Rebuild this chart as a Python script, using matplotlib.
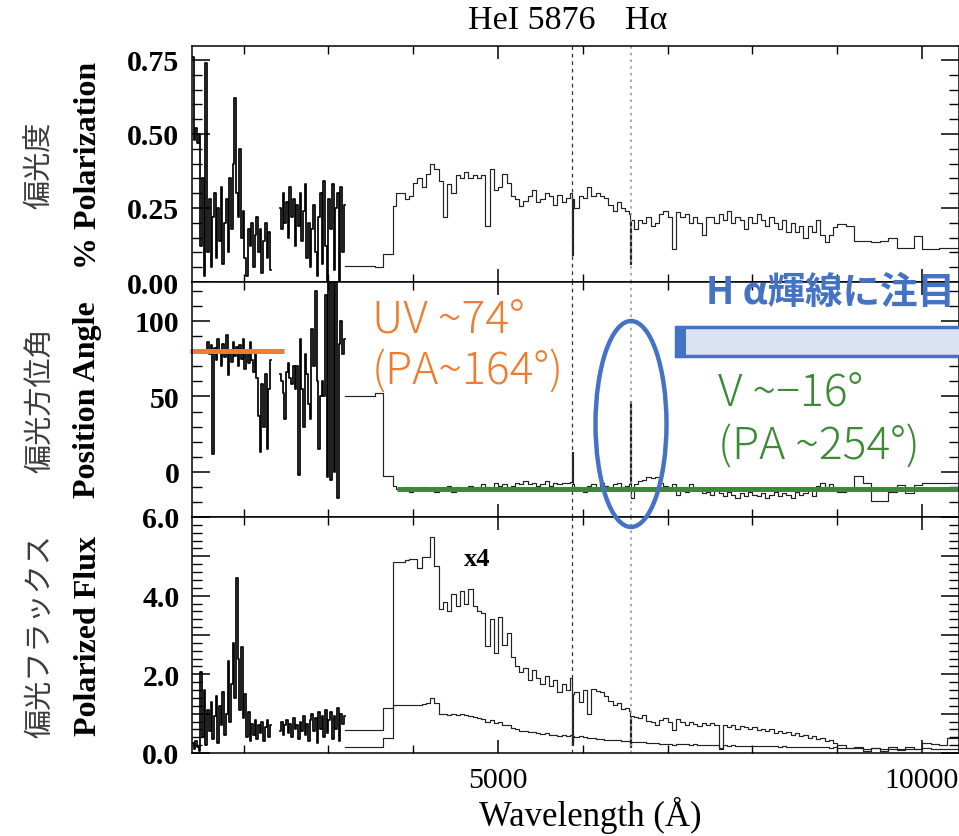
import numpy as np
import matplotlib.pyplot as plt
from matplotlib.ticker import MultipleLocator, FormatStrFormatter, FuncFormatter
from matplotlib.patches import Ellipse, Rectangle

plt.rcParams['font.family'] = 'Liberation Serif'
jp = ['Noto Sans CJK JP', 'DejaVu Sans']

# ---------------- data ----------------
# UV spectrum, two grating segments (Angstrom)
wl_uv1 = [1400, 1420, 1440, 1460, 1480, 1500, 1520, 1540, 1560, 1580,
          1600, 1620, 1640, 1660, 1680, 1700, 1720, 1740, 1760, 1780,
          1800, 1820, 1840, 1860, 1880, 1900, 1920, 1940, 1960, 1980,
          2000, 2020, 2040, 2060, 2080, 2100, 2120, 2140, 2160, 2180,
          2200, 2220, 2240, 2260, 2280, 2300, 2320]
wl_uv2 = [2430, 2450, 2470, 2490, 2510, 2530, 2550, 2570, 2590, 2610,
          2630, 2650, 2670, 2690, 2710, 2730, 2750, 2770, 2790, 2810,
          2830, 2850, 2870, 2890, 2910, 2930, 2950, 2970, 2990, 3010,
          3030, 3050, 3070, 3090, 3110, 3130, 3150, 3170, 3190]

pol_uv1 = [0.76, 0.48, 0.52, 0.47, 0.50, 0.12, 0.35, 0.02, 0.74, 0.10,
           0.28, 0.05, 0.22, 0.30, 0.08, 0.25, 0.14, 0.32, 0.06, 0.20,
           0.28, 0.10, 0.35, 0.18, 0.40, 0.62, 0.30, 0.22, 0.45, 0.15,
           0.24, 0.08, 0.02, 0.18, 0.12, 0.20, 0.05, 0.16, 0.22, 0.10,
           0.18, 0.03, 0.14, 0.20, 0.08, 0.17, 0.04]
pol_uv2 = [0.25, 0.18, 0.30, 0.20, 0.27, 0.15, 0.32, 0.22, 0.28, 0.12,
           0.26, 0.19, 0.30, 0.14, 0.24, 0.33, 0.08, 0.20, 0.05, 0.18,
           0.26, 0.10, 0.02, 0.22, 0.30, 0.06, 0.34, 0.12, 0.00, 0.28,
           0.18, 0.33, 0.04, 0.25, 0.30, 0.00, 0.32, 0.10, 0.26]

nan = np.nan
pa_uv1 = [nan, nan, nan, nan, nan, nan, nan, nan, 80, 86,
          78, 84, 12, 82, 74, 88, 79, 70, 85, 76,
          91, 64, 80, 73, 86, 77, 83, 70, 84, 75,
          88, 68, 80, 72, 86, 74, 66, 79, 62, 37,
          13, 58, 30, 65, 15, 55, 74]
pa_uv2 = [65, 60, 52, 35, 66, 72, 62, 58, 70, 55,
          70, -2, 88, 55, 30, 78, 65, 45, 35, 95,
          70, 120, 60, 15, 50, 60, 50, 117, -3, 140,
          -5, 140, 0, 135, -17, 85, 100, 78, 88]

pflux_uv1 = [0.25, 0.10, 0.30, 0.15, 0.05, 2.05, 0.40, 1.60, 0.20, 1.10,
             0.55, 1.30, 0.35, 0.95, 1.45, 0.25, 1.20, 0.70, 1.55, 0.45,
             1.00, 2.35, 0.80, 1.75, 2.80, 1.40, 4.45, 2.40, 1.10, 2.70,
             0.90, 1.50, 0.40, 1.05, 0.30, 0.75, 0.45, 0.85, 0.35, 0.70,
             0.50, 0.80, 0.30, 0.65, 0.85, 0.40, 0.70]
pflux_uv2 = [0.55, 0.80, 0.45, 0.70, 0.85, 0.50, 0.75, 0.40, 0.90, 0.60,
             0.70, 0.35, 0.80, 0.55, 0.95, 0.45, 0.75, 0.30, 0.85, 1.00,
             0.55, 0.90, 0.25, 1.05, 0.60, 0.95, 0.40, 1.10, 0.50, 0.85,
             1.05, 0.35, 0.95, 0.60, 1.15, 0.30, 1.00, 0.75, 0.95]

# optical spectrum, bin left edges (Angstrom)
wl_opt = [3200, 3550, 3640, 3760,
          3800, 3850, 3900, 3950, 4000, 4050, 4100, 4150, 4200, 4250,
          4300, 4350, 4400, 4450, 4500, 4550, 4600, 4650, 4700, 4750,
          4800, 4850, 4900, 4950, 5000, 5050, 5100, 5150, 5200, 5250,
          5300, 5350, 5400, 5450, 5500, 5550, 5600, 5650, 5700, 5750,
          5800, 5850, 5870, 5882, 5900, 5950, 6000, 6050, 6100, 6150,
          6200, 6250, 6300, 6350, 6400, 6450, 6500, 6550, 6558, 6570,
          6600, 6650, 6700, 6750, 6800, 6850, 6900, 6950, 7000, 7050,
          7100, 7150, 7200, 7250, 7300, 7350, 7400, 7450, 7500, 7550,
          7600, 7650, 7700, 7750, 7800, 7850, 7900, 7950, 8000, 8050,
          8100, 8150, 8200, 8250, 8300, 8350, 8400, 8450, 8500, 8550,
          8600, 8650, 8700, 8750, 8800, 8850, 8900, 8950, 9000, 9100,
          9200, 9300, 9400, 9500, 9600, 9700, 9800, 9900, 10000, 10100,
          10200, 10300, 10400, 10450]

pol_opt = [0.054, 0.050, 0.095, 0.257,
           0.30, 0.30, 0.28, 0.29, 0.335, 0.35, 0.32, 0.365, 0.40, 0.38,
           0.34, 0.22, 0.33, 0.30, 0.36, 0.35, 0.37, 0.35, 0.36, 0.35,
           0.36, 0.19, 0.38, 0.31, 0.32, 0.365, 0.335, 0.29, 0.28, 0.255,
           0.275, 0.29, 0.31, 0.27, 0.28, 0.30, 0.29, 0.26, 0.295, 0.27,
           0.285, 0.30, 0.09, 0.28, 0.25, 0.29, 0.285, 0.32, 0.29, 0.30,
           0.29, 0.285, 0.26, 0.24, 0.27, 0.25, 0.24, 0.23, 0.06, 0.21,
           0.18, 0.21, 0.20, 0.22, 0.19, 0.20, 0.23, 0.24, 0.22, 0.11,
           0.235, 0.22, 0.23, 0.20, 0.22, 0.20, 0.16, 0.22, 0.22, 0.20,
           0.23, 0.21, 0.24, 0.20, 0.22, 0.21, 0.18, 0.22, 0.20, 0.23,
           0.21, 0.19, 0.22, 0.20, 0.18, 0.21, 0.17, 0.20, 0.17, 0.19,
           0.15, 0.19, 0.17, 0.21, 0.16, 0.135, 0.16, 0.185, 0.195, 0.19,
           0.14, 0.14, 0.135, 0.14, 0.15, 0.115, 0.115, 0.155, 0.11, 0.11,
           0.115, 0.115, 0.115, 0.115]

pa_opt = [50, 52, -2.4, -9,
          -11, -12, -10, -13, -11, -12, -10, -12, -11, -13,
          -11, -12, -9, -13, -10, -11, -12, -9, -11, -10,
          -8, -10, -12, -7, -9, -8, -10, -9, -7, -8,
          -6, -8, -7, -9, -8, -6, -9, -7, -8, -7,
          -7, -6.5, 13, -8, -10, -12, -13, -9, -8, -11,
          -7, -9, -10, -8, -7, -10, -9, -8, 47, -17,
          -8, -6, -5, -3, -4, -3, -7, -9, -12, -8,
          -15, -10, -13, -8, -11, -12, -14, -13, -15, -12,
          -14, -16, -13, -15, -17, -14, -16, -13, -15, -16,
          -14, -17, -15, -13, -16, -14, -15, -17, -13, -15,
          -14, -12, -16, -9, -7, -10, -8, -10, -13, -11,
          -2.4, -7.5, -19, -19, -13, -8.5, -14, -8.5, -7.5, -7.5,
          -7.5, -7.5, -7.5, -7.5]

pflux4_opt = [0.15, 0.15, 0.38, 4.86,
              4.86, 4.86, 4.90, 4.92, 4.92, 4.70, 4.98, 4.98, 5.49, 4.75,
              3.67, 3.85, 3.60, 4.05, 3.75, 4.13, 3.78, 4.18, 3.75, 3.62,
              3.55, 2.73, 3.40, 2.55, 3.45, 2.75, 3.05, 2.45, 2.20, 2.05,
              2.15, 1.85, 2.10, 1.90, 1.75, 1.95, 1.70, 1.85, 1.55, 1.75,
              1.60, 1.90, 0.20, 1.50, 1.55, 1.30, 1.60, 1.00, 1.62, 1.57,
              1.55, 1.45, 1.32, 1.22, 1.28, 1.12, 1.15, 1.08, 0.20, 0.95,
              0.92, 0.88, 0.96, 0.82, 0.78, 0.72, 0.85, 0.88, 0.80, 0.58,
              0.86, 0.78, 0.72, 0.80, 0.75, 0.68, 0.77, 0.72, 0.76, 0.70,
              0.12, 0.70, 0.66, 0.72, 0.62, 0.68, 0.65, 0.60, 0.66, 0.58,
              0.62, 0.55, 0.60, 0.52, 0.57, 0.50, 0.53, 0.46, 0.50, 0.42,
              0.46, 0.38, 0.42, 0.35, 0.38, 0.30, 0.33, 0.25, 0.20, 0.12,
              0.15, 0.06, 0.12, 0.05, 0.14, 0.07, 0.16, 0.10, 0.25, 0.22,
              0.20, 0.38, 0.38, 0.38]

pflux_opt = [0.58, 0.58, 1.14, 1.21,
             1.21, 1.21, 1.22, 1.23, 1.23, 1.21, 1.24, 1.26, 1.39, 1.28,
             0.98, 1.00, 0.96, 0.99, 0.97, 1.00, 0.96, 0.94, 0.92, 0.90,
             0.86, 0.80, 0.84, 0.76, 0.80, 0.72, 0.70, 0.64, 0.60, 0.56,
             0.57, 0.53, 0.54, 0.50, 0.48, 0.50, 0.47, 0.46, 0.44, 0.45,
             0.43, 0.45, 0.25, 0.42, 0.40, 0.42, 0.41, 0.37, 0.38, 0.36,
             0.35, 0.34, 0.33, 0.32, 0.32, 0.31, 0.30, 0.30, 0.15, 0.29,
             0.28, 0.27, 0.27, 0.26, 0.25, 0.25, 0.24, 0.24, 0.23, 0.20,
             0.23, 0.22, 0.22, 0.21, 0.22, 0.21, 0.21, 0.20, 0.21, 0.20,
             0.10, 0.20, 0.19, 0.20, 0.19, 0.19, 0.18, 0.19, 0.18, 0.18,
             0.17, 0.18, 0.17, 0.17, 0.16, 0.17, 0.16, 0.16, 0.15, 0.16,
             0.15, 0.15, 0.14, 0.15, 0.14, 0.14, 0.13, 0.14, 0.13, 0.12,
             0.12, 0.11, 0.12, 0.10, 0.11, 0.10, 0.11, 0.10, 0.12, 0.11,
             0.11, 0.11, 0.11, 0.11]

lines = {'HeI': 5876, 'Ha': 6563}
uv_pa, uv_band = 80, [1370, 2480]      # UV mean angle marker
v_pa, v_band = -11, [3810, 10600]      # optical mean angle marker

# ---------------- layout ----------------
W, H = 959, 837
fig = plt.figure(figsize=(W / 100, H / 100), dpi=100)


def fx(px):
    return px / W


def fy(py):
    return 1 - py / H


rows = [(47, 283), (283, 518), (518, 754)]
axes = [fig.add_axes([fx(192), fy(b), fx(959 - 192), (b - t) / H]) for t, b in rows]
ax1, ax2, ax3 = axes

ink = dict(color='black', lw=1.25)
opt = dict(color='#222222', lw=0.85)
ax1.plot(wl_uv1, pol_uv1, drawstyle='steps-mid', **ink)
ax1.plot(wl_uv2, pol_uv2, drawstyle='steps-mid', **ink)
ax1.plot(wl_opt, pol_opt, drawstyle='steps-post', **opt)

ax2.plot(wl_uv1, pa_uv1, drawstyle='steps-mid', **ink)
ax2.plot(wl_uv2, pa_uv2, drawstyle='steps-mid', **ink)
ax2.plot(wl_opt, pa_opt, drawstyle='steps-post', **opt)

ax3.plot(wl_uv1, pflux_uv1, drawstyle='steps-mid', **ink)
ax3.plot(wl_uv2, pflux_uv2, drawstyle='steps-mid', **ink)
ax3.plot(wl_opt, pflux4_opt, drawstyle='steps-post', **opt)
ax3.plot(wl_opt, pflux_opt, drawstyle='steps-post', **opt)

for ax in axes:
    ax.axvline(lines['HeI'], color='#333333', lw=0.9, ls=(0, (3, 3)))
    ax.axvline(lines['Ha'], color='#999999', lw=1.2, ls=(0, (1.5, 2.5)))
    ax.set_xlim(1391, 10436)
    ax.xaxis.set_major_locator(MultipleLocator(5000))
    ax.xaxis.set_minor_locator(MultipleLocator(1000))
    ax.tick_params(which='both', direction='in', top=True, right=True,
                   labelsize=21.5, pad=9)
    ax.tick_params(axis='x', which='major', length=9.5, width=1.1)
    ax.tick_params(axis='x', which='minor', length=6, width=1.0)
    ax.tick_params(axis='y', which='major', length=13, width=1.1)
    ax.tick_params(axis='y', which='minor', length=7, width=1.0)
    for s in ax.spines.values():
        s.set_linewidth(1.1)

ax1.tick_params(labelbottom=False)
ax2.tick_params(labelbottom=False)

ax1.set_ylim(0, 0.797)
ax1.yaxis.set_major_locator(MultipleLocator(0.25))
ax1.yaxis.set_minor_locator(MultipleLocator(0.05))
ax1.yaxis.set_major_formatter(FormatStrFormatter('%.2f'))

ax2.set_ylim(-29.8, 125.8)
ax2.yaxis.set_major_locator(MultipleLocator(50))
ax2.yaxis.set_minor_locator(MultipleLocator(10))
ax2.yaxis.set_major_formatter(FormatStrFormatter('%d'))

ax3.set_ylim(0, 6.0)
ax3.yaxis.set_major_locator(MultipleLocator(1))
ax3.yaxis.set_minor_locator(MultipleLocator(0.2))
ax3.yaxis.set_major_formatter(FuncFormatter(lambda v, p: f'{v:.1f}' if round(v) % 2 == 0 else ''))
ax3.tick_params(axis='x', pad=10)

for ax in axes:
    plt.setp(ax.get_yticklabels(), fontweight='bold')

# mean-angle markers
ax2.plot(uv_band, [uv_pa, uv_pa], color='#ED7D31', lw=3.6, clip_on=False, solid_capstyle='butt')
ax2.plot(v_band, [v_pa, v_pa], color='#3B8A35', lw=3.6, solid_capstyle='butt')

# ---------------- texts ----------------
fig.text(fx(468), fy(21), 'HeI 5876', fontsize=24.5, ha='left', va='center')
fig.text(fx(646), fy(21), 'Hα', fontsize=24.5, ha='center', va='center')
fig.text(fx(590), fy(815), 'Wavelength (Å)', fontsize=25, ha='center', va='center')
fig.text(fx(477), fy(560), 'x4', fontsize=19, fontweight='bold', ha='center', va='center')

for label, yc in [('% Polarization', 165), ('Position Angle', 400), ('Polarized Flux', 636)]:
    fig.text(fx(88), fy(yc), label, rotation=90, fontsize=23, fontweight='bold',
             ha='center', va='center')
for label, yc in [('偏光度', 165), ('偏光方位角', 400), ('偏光フラックス', 636)]:
    fig.text(fx(40), fy(yc), label, rotation=90, fontsize=21, family=jp,
             color='#3c3c3c', ha='center', va='center')

orange, green, blue = '#ED7D31', '#3B8A35', '#4472C4'
note = dict(fontsize=32, family=jp, fontweight='light', va='center')
fig.text(fx(372), fy(320), 'UV ~74°', color=orange, **note)
fig.text(fx(372), fy(372), '(PA~164°)', color=orange, **note)
fig.text(fx(718), fy(393), 'V ~−16°', color=green, **note)
fig.text(fx(718), fy(447), '(PA ~254°)', color=green, **note)

fig.add_artist(Rectangle((fx(676), fy(357)), fx(300), 29 / H, transform=fig.transFigure,
                         fc='#DAE3F3', ec=blue, lw=2.5))
fig.add_artist(Rectangle((fx(676), fy(357)), fx(10), 29 / H, transform=fig.transFigure,
                         fc=blue, ec='none'))
fig.text(fx(955), fy(293), 'H α輝線に注目', color=blue, fontsize=27, fontweight='bold',
         family=jp, ha='right', va='center')
fig.add_artist(Ellipse((fx(631), fy(425)), fx(71), 206 / H, transform=fig.transFigure,
                       fill=False, ec=blue, lw=3.2))

fig.savefig('out.png', dpi=100)
